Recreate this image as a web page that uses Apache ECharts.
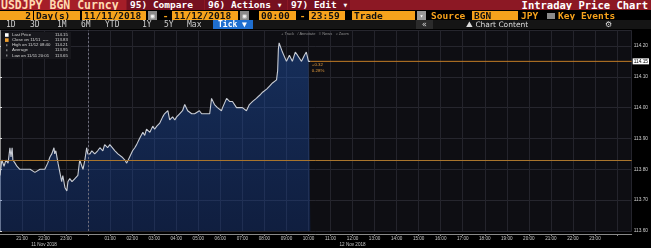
<!DOCTYPE html>
<html><head><meta charset="utf-8">
<script src="https://cdn.jsdelivr.net/npm/echarts@6/dist/echarts.min.js"></script>
<style>
html,body{margin:0;padding:0;background:#000;width:651px;height:248px;overflow:hidden;}
#chart{position:absolute;left:0;top:0;width:651px;height:248px;}
.a{position:absolute;white-space:nowrap;overflow:hidden;box-sizing:border-box;font-family:"DejaVu Sans Mono",monospace;}
.r1{top:0;height:10px;line-height:10px;font-size:9.5px;font-weight:bold;color:#fff;}
.r2{top:11px;height:9px;line-height:9px;font-size:9.5px;font-weight:bold;}
.box{background:#f6a21c;color:#111;padding:0 2px;}
.amb{color:#f6a21c;}
.r3{top:20px;height:9px;line-height:9px;font-size:8px;color:#cfcfcf;}
</style>
</head><body>
<div id="chart"></div>

<!-- header row 1 -->
<div class="a r1" style="left:0;width:651px;background:#8c1824;"></div>
<div class="a r1" style="left:0;width:126px;background:#a51e28;color:#ffd9b0;font-size:11.5px;padding-left:1px;">USDJPY BGN Curncy</div>
<div class="a r1" style="left:127px;width:77px;background:#761020;padding-left:3px;">95) Compare</div>
<div class="a r1" style="left:205px;width:82px;background:#761020;padding-left:3px;">96) Actions ▾</div>
<div class="a r1" style="left:288px;width:62px;background:#761020;padding-left:3px;">97) Edit ▾</div>
<div class="a r1" style="left:510px;width:138px;text-align:right;font-size:10.5px;">Intraday Price Chart</div>

<!-- header row 2 -->
<div class="a r2" style="left:0;width:651px;background:#000;"></div>
<div class="a r2 box" style="left:0;width:33px;text-align:right;">2</div>
<div class="a r2 box" style="left:34px;width:46px;">Day(s)</div>
<div class="a r2 box" style="left:82px;width:64px;">11/11/2018</div>
<div class="a r2" style="left:148px;width:9px;background:#8a8a8a;color:#fff;font-size:6px;text-align:center;">▦</div>
<div class="a r2 amb" style="left:161px;width:9px;text-align:center;">-</div>
<div class="a r2 box" style="left:172px;width:66px;">11/12/2018</div>
<div class="a r2" style="left:240px;width:9px;background:#8a8a8a;color:#fff;font-size:6px;text-align:center;">▦</div>
<div class="a r2 box" style="left:259px;width:37px;">00:00</div>
<div class="a r2 amb" style="left:298px;width:9px;text-align:center;">-</div>
<div class="a r2 box" style="left:309px;width:36px;">23:59</div>
<div class="a r2 box" style="left:352px;width:63px;">Trade</div>
<div class="a r2" style="left:417px;width:9px;background:#9a9a9a;color:#fff;font-size:6px;text-align:center;">▾</div>
<div class="a r2 amb" style="left:431px;width:40px;">Source</div>
<div class="a r2 box" style="left:472px;width:46px;">BGN</div>
<div class="a r2 amb" style="left:521px;width:22px;">JPY</div>
<div class="a" style="left:547px;top:13px;width:8px;height:6px;background:#8a8a8a;"></div>
<div class="a r2 amb" style="left:558px;width:70px;">Key Events</div>

<!-- header row 3 -->
<div class="a r3" style="left:0;width:651px;background:#151515;"></div>
<div class="a r3" style="left:6px;">1D</div>
<div class="a r3" style="left:30px;">3D</div>
<div class="a r3" style="left:57px;">1M</div>
<div class="a r3" style="left:81px;">6M</div>
<div class="a r3" style="left:105px;">YTD</div>
<div class="a r3" style="left:142px;">1Y</div>
<div class="a r3" style="left:164px;">5Y</div>
<div class="a r3" style="left:187px;">Max</div>
<div class="a r3" style="left:213px;width:40px;background:#1f6fd0;color:#fff;padding-left:5px;font-weight:bold;">Tick ▼</div>
<div class="a r3" style="left:416px;width:17px;background:#2b2b2b;color:#ddd;text-align:center;">«</div>
<div class="a r3" style="left:466px;color:#ddd;font-family:'DejaVu Sans',sans-serif;font-size:7.5px;">⛰ Chart Content</div>
<div class="a r3" style="left:605px;color:#ddd;font-family:'DejaVu Sans',sans-serif;font-size:8px;">⚙</div>

<script>
// ---- data ----
const priceTimes = [
'11/11 20:00','11/11 20:05','11/11 20:11','11/11 20:16','11/11 20:22','11/11 20:27','11/11 20:30','11/11 20:33','11/11 20:35','11/11 20:41',
'11/11 20:46','11/11 20:54','11/11 21:08','11/11 21:22','11/11 21:35','11/11 21:49','11/11 22:02','11/11 22:10','11/11 22:16','11/11 22:21',
'11/11 22:27','11/11 22:29','11/11 22:32','11/11 22:38','11/11 22:43','11/11 22:48','11/11 22:51','11/11 22:57','11/11 23:02','11/11 23:05',
'11/11 23:10','11/11 23:16','11/11 23:24','11/11 23:32','11/11 23:37','11/11 23:43','11/11 23:46','11/11 23:51','11/11 23:56','11/11 23:59',
'11/12 00:05','11/12 00:10','11/12 00:18','11/12 00:26','11/12 00:32','11/12 00:40','11/12 00:45','11/12 00:53','11/12 00:59','11/12 01:04',
'11/12 01:13','11/12 01:21','11/12 01:26','11/12 01:32','11/12 01:40','11/12 01:45','11/12 01:53','11/12 02:01','11/12 02:07','11/12 02:12',
'11/12 02:20','11/12 02:29','11/12 02:34','11/12 02:39','11/12 02:48','11/12 02:56','11/12 03:01','11/12 03:07','11/12 03:15','11/12 03:23',
'11/12 03:28','11/12 03:37','11/12 03:42','11/12 03:50','11/12 03:56','11/12 04:01','11/12 04:09','11/12 04:17','11/12 04:23','11/12 04:31',
'11/12 04:42','11/12 04:50','11/12 04:55','11/12 05:03','11/12 05:09','11/12 05:17','11/12 05:22','11/12 05:31','11/12 05:36','11/12 05:44',
'11/12 05:52','11/12 06:03','11/12 06:06','11/12 06:17','11/12 06:25','11/12 06:33','11/12 06:44','11/12 06:52','11/12 07:00','11/12 07:11',
'11/12 07:19','11/12 07:28','11/12 07:38','11/12 07:47','11/12 07:55','11/12 08:06','11/12 08:14','11/12 08:22','11/12 08:33','11/12 08:36',
'11/12 08:38','11/12 08:40','11/12 08:49','11/12 08:54','11/12 09:00','11/12 09:08','11/12 09:16','11/12 09:24','11/12 09:30','11/12 09:41',
'11/12 09:49','11/12 09:54','11/12 10:00','11/12 10:05'
];
const priceValues = [
113.78,113.83,113.81,113.83,113.82,113.87,113.84,113.87,113.83,113.82,
113.81,113.80,113.80,113.80,113.79,113.80,113.80,113.82,113.84,113.85,
113.87,113.85,113.86,113.82,113.82,113.76,113.78,113.74,113.73,113.76,
113.77,113.76,113.77,113.78,113.83,113.81,113.80,113.83,113.87,113.85,
113.85,113.86,113.85,113.86,113.87,113.86,113.88,113.87,113.88,113.88,
113.86,113.85,113.85,113.84,113.83,113.82,113.84,113.86,113.87,113.88,
113.90,113.92,113.91,113.93,113.92,113.94,113.93,113.94,113.95,113.97,
113.98,113.99,113.96,113.97,113.96,113.97,113.98,113.99,114.01,113.99,
113.98,113.98,113.98,113.99,113.98,113.98,113.98,113.98,114.03,114.01,
114.00,113.99,114.00,114.03,114.02,114.02,114.00,114.00,114.00,113.99,
114.01,114.02,114.03,114.04,114.05,114.06,114.07,114.08,114.09,114.12,
114.19,114.21,114.18,114.18,114.15,114.17,114.15,114.18,114.17,114.15,
114.17,114.18,114.15,114.15
];
const closePrice = 113.83;
const lastPrice = 114.15;
const changeTexts = ['+0.32', '0.28%'];
const axisStart = '11/11 20:00';
const axisEnd = '11/13 00:40';
const midnightTime = '11/12 00:00';
const yMin = 113.60, yMax = 114.25, yStep = 0.10;
const dateLabelTimes = ['11/11 22:00', '11/12 12:00'];
const dateLabelTexts = ['11 Nov 2018', '12 Nov 2018'];
const legendLabels = ['Last Price', 'Close on 11/11  ----', 'High on 11/12 08:40', 'Average', 'Low on 11/11 20:01'];
const legendValues = ['114.15', '113.83', '114.21', '113.95', '113.65'];
const toolbarText = '+ Track   ⁄ Annotate   ≡ News   ⌕ Zoom';

// ---- helpers ----
function toMin(s) {
  const parts = s.split(' ');
  const day = +parts[0].split('/')[1];
  const hm = parts[1].split(':').map(Number);
  return (day - 11) * 1440 + hm[0] * 60 + hm[1] - 1200;
}
const priceData = priceTimes.map((t, i) => [toMin(t), priceValues[i]]);
const xMin = toMin(axisStart), xMax = toMin(axisEnd);
const lastX = priceData[priceData.length - 1][0];
const dateMap = {};
dateLabelTimes.forEach((t, i) => { dateMap[toMin(t)] = dateLabelTexts[i]; });

const chart = echarts.init(document.getElementById('chart'), null, {renderer: 'canvas'});

const legendGraphics = [{
  type: 'rect', shape: {x: 1, y: 32, width: 70, height: 27}, style: {fill: '#17171c'}, z: 100
}];
const iconColors = ['#ffffff', '#f0a030', '#aaaaaa', '#aaaaaa', '#aaaaaa'];
legendLabels.forEach((lab, i) => {
  const cy = 35 + i * 5.1;
  if (i < 2) {
    legendGraphics.push({type: 'rect', shape: {x: 5, y: cy - 1.8, width: 3.6, height: 3.6}, style: {fill: iconColors[i]}, z: 101});
  } else {
    legendGraphics.push({type: 'rect', shape: {x: 6.3, y: cy - 1, width: 1, height: 2}, style: {fill: iconColors[i]}, z: 101});
  }
  legendGraphics.push({type: 'text', x: 12, y: cy, style: {text: lab, fill: '#d6d6d6', fontSize: 4.3, fontFamily: 'Liberation Sans', verticalAlign: 'middle'}, z: 101});
  legendGraphics.push({type: 'text', x: 55, y: cy, style: {text: legendValues[i], fill: '#d6d6d6', fontSize: 4.3, fontFamily: 'Liberation Sans', verticalAlign: 'middle'}, z: 101});
});
legendGraphics.push({type: 'text', x: 281, y: 33.5, style: {text: toolbarText, fill: '#8c8c8c', fontSize: 4, fontFamily: 'Liberation Sans', verticalAlign: 'middle'}, z: 101});

const lastColor = '#c27c26';

const option = {
  animation: false,
  backgroundColor: '#000',
  grid: {left: 0, right: 18, top: 30.5, bottom: 16, show: true, backgroundColor: '#0e0e13', borderWidth: 0},
  xAxis: {
    type: 'value', min: xMin, max: xMax, interval: 60, offset: 3,
    axisLine: {show: true, lineStyle: {color: '#8a8a8a', width: 1}},
    axisTick: {show: true, length: 2, lineStyle: {color: '#8a8a8a'}},
    splitLine: {show: true, lineStyle: {color: '#24242c', width: 1}},
    axisLabel: {
      show: true, margin: 2, fontSize: 4.6, color: '#c8c8c8', fontFamily: 'Liberation Sans',
      lineHeight: 6, showMinLabel: false, showMaxLabel: false,
      formatter: function (v) {
        const h = ((20 + Math.round(v) / 60) % 24 + 24) % 24;
        if (v === xMin || h === 0 || v % 60 !== 0) return '';
        const s = (h < 10 ? '0' : '') + h + ':00';
        return dateMap[v] ? s + '\n' + dateMap[v] : s;
      }
    }
  },
  yAxis: {
    type: 'value', position: 'right', min: yMin, max: yMax, interval: yStep,
    axisLine: {show: true, lineStyle: {color: '#8a8a8a', width: 1}},
    axisTick: {show: true, length: 2, lineStyle: {color: '#dddddd'}},
    splitLine: {show: true, lineStyle: {color: '#26262e', width: 1}},
    axisLabel: {
      show: true, margin: 2, fontSize: 4.8, color: '#cfcfcf', fontFamily: 'Liberation Sans',
      showMaxLabel: false,
      formatter: function (v) { return Math.abs(v - yMax) < 1e-6 ? '' : v.toFixed(2); }
    }
  },
  series: [{
    type: 'line', data: priceData, symbol: 'none', showSymbol: false, z: 3,
    color: '#c8ccd4',
    lineStyle: {color: '#c8ccd4', width: 1.1},
    areaStyle: {
      color: new echarts.graphic.LinearGradient(0, 0, 0, 1, [
        {offset: 0, color: 'rgba(34,92,190,0.6)'},
        {offset: 1, color: 'rgba(20,66,160,0.45)'}
      ])
    },
    markLine: {
      silent: true, symbol: ['none', 'none'], animation: false,
      data: [
        {yAxis: closePrice, lineStyle: {color: '#a9752d', width: 1, type: 'solid'}, label: {show: false}},
        {xAxis: toMin(midnightTime), lineStyle: {color: '#6c6c7a', width: 1, type: [2, 2]}, label: {show: false}}
      ]
    },
    markPoint: {
      silent: true, animation: false,
      data: [{
        coord: [lastX, lastPrice], symbol: 'rect', symbolSize: 1, itemStyle: {color: 'rgba(0,0,0,0)'},
        label: {show: true, position: 'right', distance: 1, offset: [0, 6.5], formatter: changeTexts.join('\n'),
                color: '#e39b3c', fontSize: 4.4, lineHeight: 5.5, fontFamily: 'Liberation Sans', align: 'left'}
      }]
    }
  }, {
    type: 'line', data: [[lastX, lastPrice], [xMax, lastPrice]], symbol: 'none', showSymbol: false, z: 4,
    silent: true, color: lastColor, itemStyle: {color: lastColor},
    lineStyle: {color: lastColor, width: 1, type: 'solid', opacity: 1},
    endLabel: {show: true, formatter: lastPrice.toFixed(2), color: '#000', backgroundColor: '#fff',
               fontSize: 4.8, padding: [1, 1, 0, 1], distance: 1, fontFamily: 'Liberation Sans'}
  }],
  graphic: legendGraphics
};
chart.setOption(option);
</script>
</body></html>
